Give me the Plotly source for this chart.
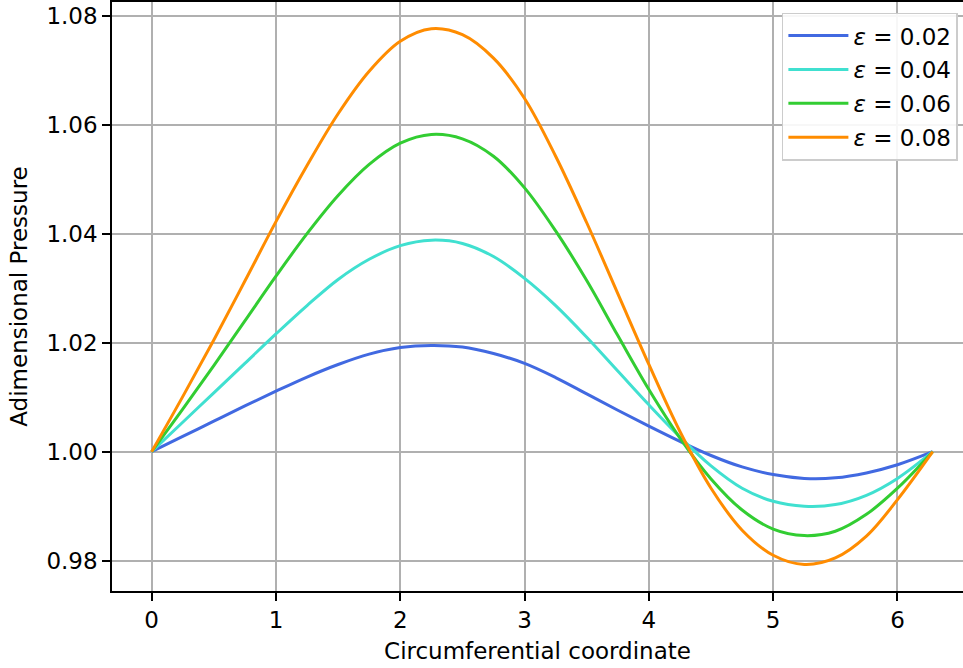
import plotly.graph_objects as go

# Circumferential coordinate samples
theta = [0.0, 0.25, 0.5, 0.75, 1.0, 1.25, 1.5, 1.75, 2.0, 2.25, 2.5, 2.75, 3.0,
         3.25, 3.5, 3.75, 4.0, 4.25, 4.5, 4.75, 5.0, 5.25, 5.5, 5.75, 6.0, 6.2832]

p_002 = [1.0000, 1.0028, 1.0056, 1.0084, 1.0111, 1.0137, 1.0160, 1.0179, 1.0191,
         1.0195, 1.0192, 1.0180, 1.0162, 1.0136, 1.0106, 1.0076, 1.0047, 1.0019,
         0.9993, 0.9972, 0.9958, 0.9951, 0.9952, 0.9961, 0.9976, 1.0000]
p_004 = [1.0000, 1.0054, 1.0108, 1.0162, 1.0216, 1.0268, 1.0316, 1.0353, 1.0378,
         1.0388, 1.0382, 1.0358, 1.0318, 1.0268, 1.0210, 1.0148, 1.0086, 1.0027,
         0.9974, 0.9933, 0.9909, 0.9900, 0.9903, 0.9920, 0.9951, 1.0000]
p_006 = [1.0000, 1.0078, 1.0158, 1.0240, 1.0322, 1.0400, 1.0470, 1.0527, 1.0566,
         1.0582, 1.0574, 1.0542, 1.0484, 1.0405, 1.0314, 1.0213, 1.0114, 1.0025,
         0.9950, 0.9893, 0.9858, 0.9846, 0.9854, 0.9885, 0.9933, 1.0000]
p_008 = [1.0000, 1.0101, 1.0205, 1.0313, 1.0422, 1.0525, 1.0620, 1.0698, 1.0753,
         1.0776, 1.0765, 1.0722, 1.0648, 1.0542, 1.0420, 1.0290, 1.0160, 1.0037,
         0.9933, 0.9856, 0.9810, 0.9793, 0.9805, 0.9845, 0.9912, 1.0000]

series = [
    ("<i>ε</i> = 0.02", p_002, "#4169E1"),
    ("<i>ε</i> = 0.04", p_004, "#40E0D0"),
    ("<i>ε</i> = 0.06", p_006, "#32CD32"),
    ("<i>ε</i> = 0.08", p_008, "#FF8C00"),
]

x_ticks = [0, 1, 2, 3, 4, 5, 6]
y_ticks = [0.98, 1.00, 1.02, 1.04, 1.06, 1.08]

fig = go.Figure()
for i, (name, vals, col) in enumerate(series):
    fig.add_trace(go.Scatter(
        x=theta, y=vals, mode="lines", name=name,
        line=dict(color=col, width=3, shape="spline", smoothing=1.0),
        legendgroup=f"g{i}",
    ))

font = dict(family="DejaVu Sans", size=23, color="black")

fig.update_layout(
    width=963, height=668,
    margin=dict(l=112, r=0, t=2, b=77),
    paper_bgcolor="white", plot_bgcolor="white",
    font=font,
    showlegend=True,
    legend=dict(
        x=0.994, y=0.982, xanchor="right", yanchor="top",
        bgcolor="rgba(255,255,255,0.9)", bordercolor="#cccccc", borderwidth=1.5,
        font=dict(family="DejaVu Sans", size=23, color="black"),
        tracegroupgap=1, itemwidth=60,
    ),
    xaxis=dict(
        range=[-0.319, 6.527], tickvals=x_ticks, ticktext=[str(v) for v in x_ticks],
        showgrid=True, gridcolor="#b0b0b0", gridwidth=1.5,
        showline=True, linecolor="black", linewidth=1.6, mirror=True,
        ticks="outside", ticklen=8, tickwidth=1.6, tickcolor="black",
        zeroline=False,
        title=dict(text="Circumferential coordinate", font=font, standoff=10),
    ),
    yaxis=dict(
        range=[0.97444, 1.0825], tickvals=y_ticks, ticktext=[f"{v:.2f}" for v in y_ticks],
        showgrid=True, gridcolor="#b0b0b0", gridwidth=1.5,
        showline=True, linecolor="black", linewidth=1.6, mirror=False,
        ticks="outside", ticklen=8, tickwidth=1.6, tickcolor="black",
        zeroline=False,
        title=dict(text="Adimensional Pressure", font=font, standoff=12),
    ),
)

fig.write_html("out.html")
